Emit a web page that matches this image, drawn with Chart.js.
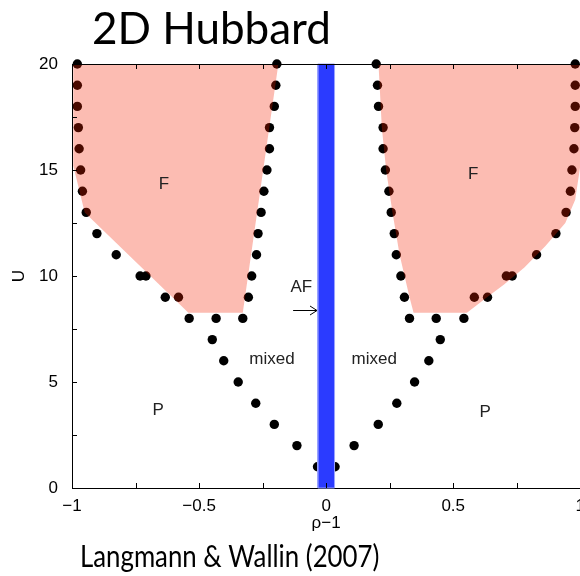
<!DOCTYPE html>
<html><head><meta charset="utf-8">
<script src="https://cdn.jsdelivr.net/npm/chart.js@4"></script>
<style>html,body{margin:0;padding:0;background:#fff;overflow:hidden}#wrap{position:relative;width:580px;height:576px;overflow:hidden}</style>
</head><body><div id="wrap"><canvas id="c" width="585" height="576"></canvas></div>
<script>
// ---- data (x = rho-1, y = U) ----
const xTickValues = [-1, -0.5, 0, 0.5, 1];
const yTickValues = [0, 5, 10, 15, 20];
const xMinorTicks = [-1, -0.75, -0.5, -0.25, 0, 0.25, 0.5, 0.75, 1];
const yMinorTicks = [0, 2.5, 5, 7.5, 10, 12.5, 15, 17.5, 20];

// phase-boundary dots, left half
const leftDotX = [-0.979,-0.979,-0.979,-0.975,-0.972,-0.966,-0.959,-0.944,-0.902,-0.826,-0.732,-0.709,-0.633,-0.581,-0.539,-0.433,-0.328,-0.448,-0.403,-0.346,-0.277,-0.204,-0.115,-0.034,
                  -0.194,-0.198,-0.204,-0.223,-0.223,-0.233,-0.245,-0.256,-0.268,-0.274,-0.293,-0.306];
const leftDotU = [20,19,18,17,16,15,14,13,12,11,10,10,9,9,8,8,8,7,6,5,4,3,2,1,
                  20,19,18,17,16,15,14,13,12,11,10,9];
// phase-boundary dots, right half
const rightDotX = [0.197,0.202,0.206,0.224,0.224,0.233,0.247,0.256,0.268,0.276,0.294,0.308,0.328,0.433,0.542,0.449,0.404,0.348,0.278,0.205,0.110,0.035,
                   0.980,0.980,0.980,0.978,0.975,0.967,0.961,0.944,0.904,0.828,0.709,0.732,0.583,0.635];
const rightDotU = [20,19,18,17,16,15,14,13,12,11,10,9,8,8,8,7,6,5,4,3,2,1,
                   20,19,18,17,16,15,14,13,12,11,10,10,9,9];

// ferromagnetic (F) regions
const leftFX = [-0.995,-0.995,-0.950,-0.542,-0.328,-0.188,-0.995];
const leftFU = [20,15.2,13.0,8.27,8.27,20,20];
const rightFX = [0.206,0.219,0.236,0.261,0.289,0.328,0.344,0.554,0.633,0.700,0.780,0.862,0.941,0.980,1.0,1.0,0.206];
const rightFU = [20,17,15,13,11,9,8.27,8.27,9.0,9.6,10.4,11.4,12.5,13.6,15.2,20,20];

// antiferromagnetic line at half filling
const afBandX = [-0.033,0.033,0.033,-0.033,-0.033];
const afBandU = [0,0,20,20,0];

// region labels
const regionText = ['F','F','mixed','mixed','P','P','AF'];
const regionX = [-0.638,0.579,-0.213,0.189,-0.661,0.626,-0.098];
const regionU = [14.34,14.8,6.08,6.08,3.68,3.58,9.48];
// AF arrow
const arrowX = [-0.13,-0.036];
const arrowU = [8.4,8.4];

const toPts = (xs, ys) => xs.map((x, i) => ({x, y: ys[i]}));
const AXIS_FONT = "'Liberation Sans', Arial, Helvetica, sans-serif";
const TITLE_FONT = "Lato, 'Open Sans', sans-serif";

const deco = {
  id: 'deco',
  afterDraw(chart) {
    const {ctx, chartArea: a, scales: {x, y}} = chart;
    ctx.save();
    ctx.strokeStyle = '#000';
    ctx.lineWidth = 1;
    // top frame line
    ctx.beginPath();
    ctx.moveTo(a.left, a.top + 0.5); ctx.lineTo(a.right, a.top + 0.5);
    ctx.stroke();
    // inward tick marks
    ctx.beginPath();
    xMinorTicks.forEach(v => {
      const px = Math.round(x.getPixelForValue(v)) + 0.5;
      ctx.moveTo(px, a.bottom); ctx.lineTo(px, a.bottom - 5);
      ctx.moveTo(px, a.top); ctx.lineTo(px, a.top + 5);
    });
    yMinorTicks.forEach(v => {
      const py = Math.round(y.getPixelForValue(v)) + 0.5;
      ctx.moveTo(a.left, py); ctx.lineTo(a.left + 5, py);
    });
    ctx.stroke();
    // arrow
    const ax0 = x.getPixelForValue(arrowX[0]), ax1 = x.getPixelForValue(arrowX[1]);
    const ay = Math.round(y.getPixelForValue(arrowU[0])) + 0.5;
    ctx.beginPath();
    ctx.moveTo(ax0, ay); ctx.lineTo(ax1, ay);
    ctx.moveTo(ax1 - 7, ay - 4.5); ctx.lineTo(ax1, ay); ctx.lineTo(ax1 - 7, ay + 4.5);
    ctx.stroke();
    // region labels
    ctx.fillStyle = '#222';
    ctx.font = '17px ' + AXIS_FONT;
    ctx.textAlign = 'center';
    ctx.textBaseline = 'middle';
    regionText.forEach((t, i) => {
      ctx.fillText(t, x.getPixelForValue(regionX[i]), y.getPixelForValue(regionU[i]));
    });
    // slide title and citation
    ctx.fillStyle = '#000';
    ctx.textAlign = 'left';
    ctx.textBaseline = 'alphabetic';
    ctx.font = '44px ' + TITLE_FONT;
    ctx.fillText('2D Hubbard', 92, 44);
    ctx.translate(80, 567);
    ctx.scale(0.86, 1);
    ctx.font = '30px ' + TITLE_FONT;
    ctx.fillText('Langmann & Wallin (2007)', 0, 0);
    ctx.restore();
  }
};

new Chart(document.getElementById('c'), {
  type: 'scatter',
  data: {
    datasets: [
      { label: 'AF', data: toPts(afBandX, afBandU), showLine: true, fill: 'shape',
        backgroundColor: '#2b3bff', borderColor: '#9aa3ff', borderWidth: 1, pointRadius: 0, tension: 0, clip: false },
      { label: 'F left', data: toPts(leftFX, leftFU), showLine: true, fill: 'shape',
        backgroundColor: 'rgba(245,33,0,0.3)', borderWidth: 0, borderColor: 'rgba(0,0,0,0)', pointRadius: 0, tension: 0 },
      { label: 'F right', data: toPts(rightFX, rightFU), showLine: true, fill: 'shape',
        backgroundColor: 'rgba(245,33,0,0.3)', borderWidth: 0, borderColor: 'rgba(0,0,0,0)', pointRadius: 0, tension: 0, clip: false },
      { label: 'left', data: toPts(leftDotX, leftDotU), showLine: false,
        pointRadius: 4.7, pointBorderWidth: 0, backgroundColor: '#000', borderColor: '#000', clip: false },
      { label: 'right', data: toPts(rightDotX, rightDotU), showLine: false,
        pointRadius: 4.7, pointBorderWidth: 0, backgroundColor: '#000', borderColor: '#000', clip: false }
    ]
  },
  options: {
    responsive: false,
    animation: false,
    devicePixelRatio: 1,
    layout: { padding: { left: 0, right: 0, top: 64, bottom: 38 } },
    plugins: { legend: { display: false }, tooltip: { enabled: false } },
    scales: {
      x: {
        type: 'linear', min: -1, max: 1,
        afterBuildTicks: s => { s.ticks = xTickValues.map(v => ({value: v})); },
        afterFit: s => { s.paddingLeft = 0; s.paddingRight = 0; s.height = 50; },
        grid: { drawOnChartArea: false, drawTicks: false },
        border: { display: true, color: '#000', width: 1 },
        ticks: { padding: 8, color: '#000', font: { family: AXIS_FONT, size: 17 },
                 callback: v => (v < 0 ? '\u2212' + Math.abs(v) : String(v)) },
        title: { display: true, text: '\u03c1\u22121', color: '#000', font: { family: AXIS_FONT, size: 17 }, padding: { top: 0, bottom: 4 } }
      },
      y: {
        type: 'linear', min: 0, max: 20,
        afterBuildTicks: s => { s.ticks = yTickValues.map(v => ({value: v})); },
        afterFit: s => { s.width = 72; s.paddingTop = 0; s.paddingBottom = 0; },
        grid: { drawOnChartArea: false, drawTicks: false },
        border: { display: true, color: '#000', width: 1 },
        ticks: { padding: 14, color: '#000', font: { family: AXIS_FONT, size: 17 } },
        title: { display: true, text: 'U', color: '#000', font: { family: AXIS_FONT, size: 17 }, padding: { top: 9, bottom: 0 } }
      }
    }
  },
  plugins: [deco]
});
</script></body></html>
